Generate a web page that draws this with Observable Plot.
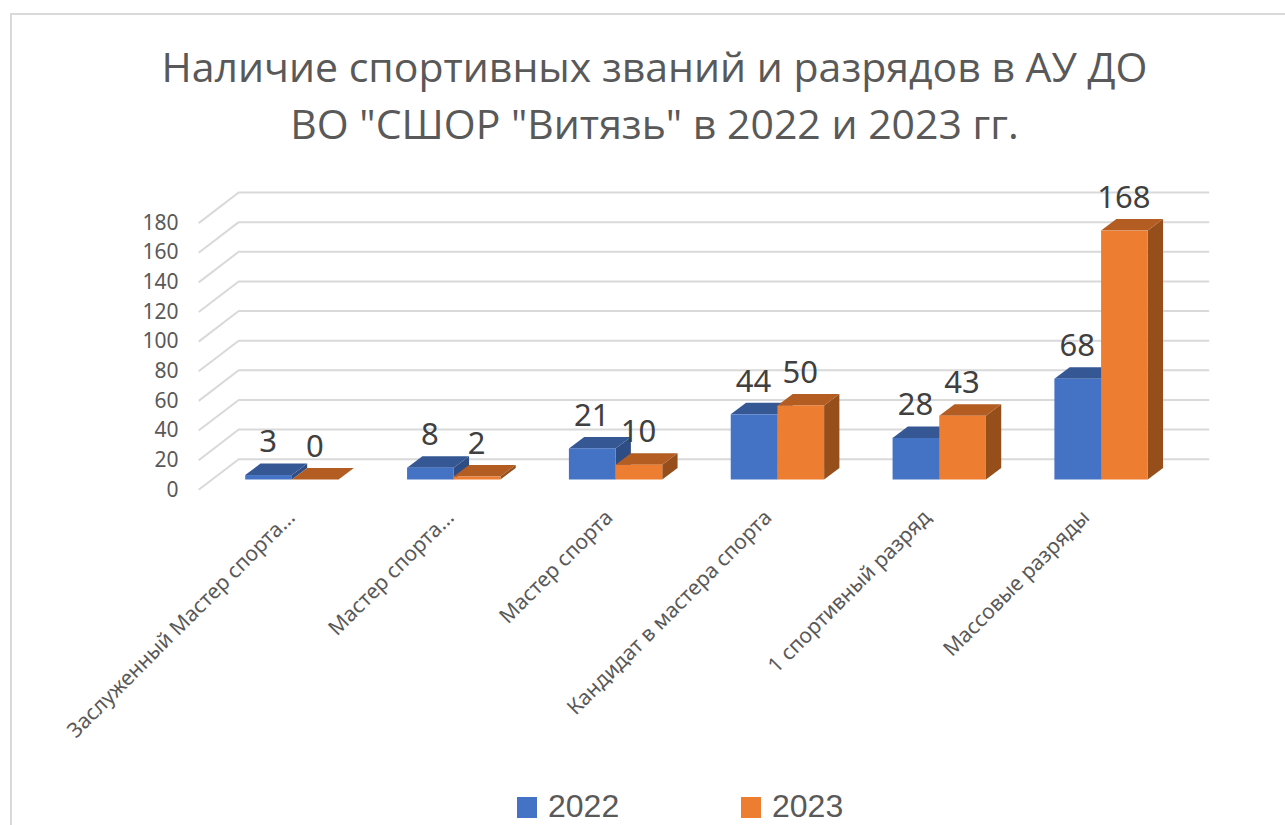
<!DOCTYPE html>
<html lang="ru">
<head>
<meta charset="utf-8">
<script src="https://cdn.jsdelivr.net/npm/d3@7"></script>
<script src="https://cdn.jsdelivr.net/npm/@observablehq/plot@0.6"></script>
<style>
  html, body { margin: 0; padding: 0; background: #fff; overflow: hidden; }
  #page { position: relative; width: 1285px; height: 825px; overflow: hidden; font-family: "Open Sans", sans-serif; }
  #frameTop { position: absolute; left: 10px; right: 0; top: 13px; height: 2px; background: #d9d9d9; }
  #frameLeft { position: absolute; left: 10px; top: 13px; bottom: 0; width: 2px; background: #d9d9d9; }
  #title { height: 170px; box-sizing: border-box; padding-top: 38px; text-align: center; color: #595959; font-size: 41px; line-height: 57px; padding-left: 24px; }
  #chart svg { display: block; }
  #legend { position: absolute; left: 0; top: 788px; width: 100%; height: 36px; color: #595959; font-family: "Liberation Sans", sans-serif; font-size: 32px; line-height: 36px; }
  #legend span { position: absolute; top: 0; }
  #legend i { position: absolute; top: 9px; width: 20px; height: 21px; }
</style>
</head>
<body>
<div id="page">
  <div id="frameTop"></div>
  <div id="frameLeft"></div>
  <div id="title">Наличие спортивных званий и разрядов в АУ ДО<br>ВО "СШОР "Витязь" в 2022 и 2023 гг.</div>
  <div id="chart"></div>
  <div id="legend"></div>
</div>
<script>
const categories = ["Заслуженный Мастер спорта...", "Мастер спорта...", "Мастер спорта", "Кандидат в мастера спорта", "1 спортивный разряд", "Массовые разряды"];
const values2022 = [3, 8, 21, 44, 28, 68];
const values2023 = [0, 2, 10, 50, 43, 168];
const years = ["2022", "2023"];
const yTicks = [0, 20, 40, 60, 80, 100, 120, 140, 160, 180];

const frontColors = ["#4472C4", "#ED7D31"];
const topColors = ["#355895", "#B35D22"];
const sideColors = ["#2E4D85", "#964F1B"];
const gridColor = "#D9D9D9";
const textColor = "#595959";

// Oblique projection, expressed as offsets in data units
const pxX = 161.9, pxY = 1.4815;
const barW = 46.7 / pxX, barDX = 15.3 / pxX, barDY = 11.5 / pxY;
const wallDX = 27.2 / pxX, wallDY = 20.8 / pxY;
const floorDX = -12.8 / pxX, floorDY = -9.8 / pxY;
const labelStep = 159 / pxX;

const bars = [values2022, values2023].flatMap((vals, s) => vals.map((v, i) => {
  const x1 = i + 0.5 - barW + s * barW;
  return { id: `${s}-${i}`, s, i, v, x1, x2: x1 + barW };
}));
const sideFaces = bars.flatMap(b => [
  { id: b.id, s: b.s, x: b.x2, y1: 0, y2: b.v },
  { id: b.id, s: b.s, x: b.x2 + barDX, y1: barDY, y2: b.v + barDY }
]);
const topFaces = bars.flatMap(b => [
  { id: b.id, s: b.s, y: b.v, x1: b.x1, x2: b.x2 },
  { id: b.id, s: b.s, y: b.v + barDY, x1: b.x1 + barDX, x2: b.x2 + barDX }
]);

const seriesMarks = s => [
  Plot.areaY(sideFaces.filter(d => d.s === s), { x: "x", y1: "y1", y2: "y2", z: "id", fill: sideColors[s], curve: "linear" }),
  Plot.areaX(topFaces.filter(d => d.s === s), { y: "y", x1: "x1", x2: "x2", z: "id", fill: topColors[s], curve: "linear" }),
  Plot.rectY(bars.filter(d => d.s === s), { x1: "x1", x2: "x2", y1: 0, y2: "v", fill: frontColors[s], inset: 0 })
];

const svgTop = 170;
const plot = Plot.plot({
  width: 1285,
  height: 616,
  marginLeft: 211,
  marginRight: 103,
  marginTop: 42,
  marginBottom: 306,
  style: { background: "transparent", overflow: "visible" },
  x: { domain: [0, 6], range: [211, 1182], axis: null },
  y: { domain: [0, 180], range: [479.5 - svgTop, 479.5 - svgTop - 180 * pxY] },
  marks: [
    Plot.ruleY(yTicks, { y: d => d + wallDY, x1: wallDX, x2: 6 + wallDX, stroke: gridColor, strokeWidth: 2 }),
    Plot.link(yTicks, { x1: floorDX, y1: d => d + floorDY, x2: wallDX, y2: d => d + wallDY, stroke: gridColor, strokeWidth: 2 }),
    Plot.axisY({ ticks: yTicks, tickSize: 0, tickPadding: 33, dy: 9.8, fontSize: 21, color: textColor, label: null, tickFormat: d => String(d) }),
    ...seriesMarks(0),
    ...seriesMarks(1),
    Plot.text(bars, { x: d => (d.x1 + d.x2) / 2, y: "v", text: d => String(d.v), dx: -1, dy: -33, fontSize: 31, fill: "#404040" }),
    Plot.text(categories, { x: (d, i) => i * labelStep + 0.5, y: 0, text: d => d, rotate: -45, textAnchor: "end", dx: -1, dy: 34, fontSize: 21, fill: textColor })
  ]
});
document.getElementById("chart").appendChild(plot);

const legendX = [[517, 548], [741, 772]];
const legend = document.getElementById("legend");
years.forEach((y, s) => {
  const box = document.createElement("i");
  box.style.left = legendX[s][0] + "px";
  box.style.background = frontColors[s];
  legend.appendChild(box);
  const label = document.createElement("span");
  label.style.left = legendX[s][1] + "px";
  label.textContent = y;
  legend.appendChild(label);
});
</script>
</body>
</html>
